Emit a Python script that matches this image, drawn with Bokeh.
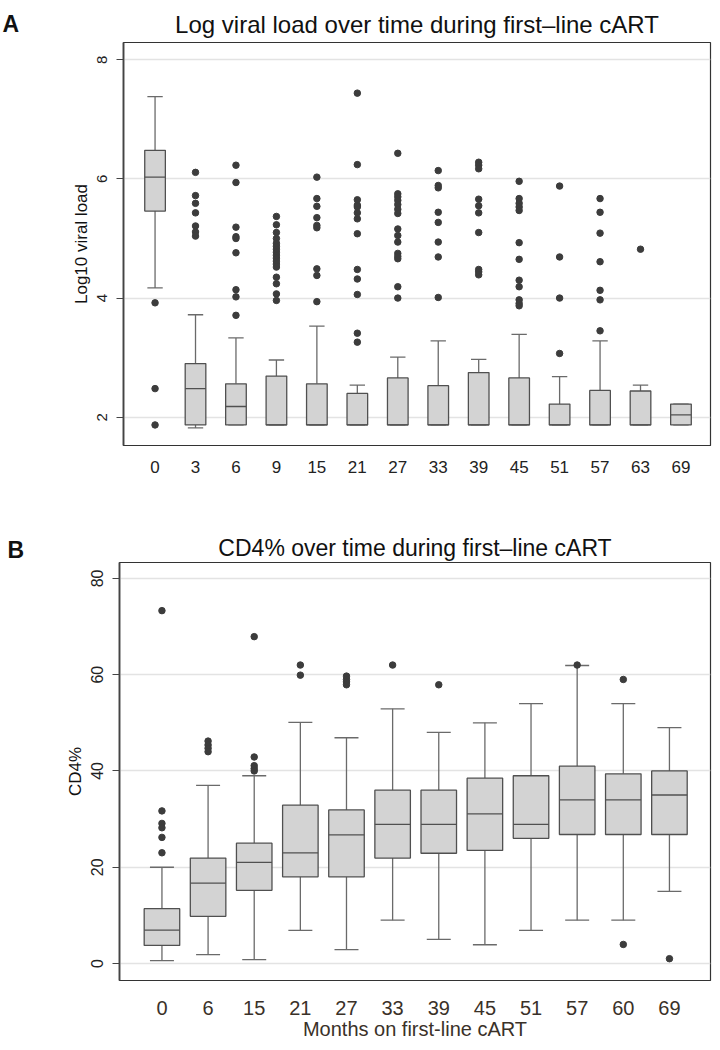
from bokeh.plotting import figure
from bokeh.models import Range1d, FixedTicker, ColumnDataSource
from bokeh.layouts import column, row
from bokeh.transform import dodge
from bokeh.embed import file_html
from bokeh.resources import INLINE

# ---------------- Panel A: log10 viral load ----------------
vl_months = ["0", "3", "6", "9", "15", "21", "27", "33", "39", "45", "51", "57", "63", "69"]
vl_lower = [4.17, 1.82, 1.87, 1.87, 1.87, 1.87, 1.87, 1.87, 1.87, 1.87, 1.87, 1.87, 1.87, 1.87]
vl_q1 = [5.46, 1.87, 1.87, 1.87, 1.87, 1.87, 1.87, 1.87, 1.87, 1.87, 1.87, 1.87, 1.87, 1.87]
vl_median = [6.03, 2.48, 2.18, 1.87, 1.87, 1.87, 1.87, 1.87, 1.87, 1.87, 1.87, 1.87, 1.87, 2.04]
vl_q3 = [6.48, 2.90, 2.56, 2.69, 2.56, 2.40, 2.66, 2.53, 2.75, 2.66, 2.22, 2.45, 2.44, 2.22]
vl_upper = [7.38, 3.72, 3.33, 2.96, 3.53, 2.54, 3.01, 3.28, 2.97, 3.39, 2.68, 3.28, 2.54, 2.22]
vl_outliers = [
    [3.92, 2.48, 1.87],
    [6.11, 5.72, 5.59, 5.43, 5.21, 5.11, 5.04],
    [6.23, 5.94, 5.19, 5.03, 5.00, 4.76, 4.14, 4.02, 3.71],
    [5.37, 5.23, 5.10, 5.00, 4.92, 4.87, 4.82, 4.77, 4.72, 4.67, 4.62, 4.57, 4.52, 4.35, 4.24, 4.07, 3.96],
    [6.03, 5.67, 5.54, 5.35, 5.22, 5.18, 4.49, 4.38, 3.94],
    [7.44, 6.24, 5.65, 5.56, 5.53, 5.43, 5.33, 5.08, 4.48, 4.32, 4.06, 3.41, 3.26],
    [6.43, 5.75, 5.70, 5.64, 5.57, 5.49, 5.42, 5.16, 5.05, 4.94, 4.75, 4.70, 4.66, 4.19, 4.00],
    [6.14, 5.89, 5.85, 5.44, 5.27, 4.94, 4.69, 4.01],
    [6.28, 6.23, 6.17, 5.66, 5.55, 5.43, 5.10, 4.48, 4.44, 4.39],
    [5.96, 5.67, 5.59, 5.53, 5.47, 4.93, 4.65, 4.30, 4.19, 3.97, 3.91, 3.87],
    [5.88, 4.69, 4.00, 3.07],
    [5.67, 5.44, 5.09, 4.61, 4.13, 3.97, 3.45],
    [4.82],
    [],
]
vl_yticks = [2, 4, 6, 8]

# ---------------- Panel B: CD4% ----------------
cd4_months = ["0", "6", "15", "21", "27", "33", "39", "45", "51", "57", "60", "69"]
cd4_lower = [0.6, 1.85, 0.8, 6.9, 2.9, 9.0, 5.0, 3.9, 6.9, 9.0, 9.0, 15.0]
cd4_q1 = [3.75, 9.8, 15.2, 18.0, 18.0, 21.9, 22.9, 23.5, 26.0, 26.8, 26.8, 26.8]
cd4_median = [6.95, 16.7, 21.0, 23.0, 26.7, 28.9, 28.9, 31.1, 28.9, 34.0, 34.0, 35.0]
cd4_q3 = [11.4, 21.9, 25.0, 32.9, 31.9, 36.0, 36.0, 38.5, 39.0, 41.0, 39.4, 40.0]
cd4_upper = [20.0, 37.0, 39.0, 50.1, 46.9, 52.9, 48.0, 50.0, 54.0, 61.9, 54.0, 49.0]
cd4_outliers = [
    [73.3, 31.7, 29.1, 28.2, 26.2, 23.0],
    [46.2, 45.4, 44.7, 44.0],
    [67.9, 42.9, 41.1, 40.5, 40.0],
    [62.0, 59.9],
    [59.7, 59.0, 58.5, 57.9],
    [62.0],
    [57.9],
    [],
    [],
    [62.0],
    [59.0, 3.96],
    [1.0],
]
cd4_yticks = [0, 20, 40, 60, 80]

panel_letters = ["A", "B"]

BOX_FILL = "#d3d3d3"
BOX_LINE = "#505050"
WHISK = "#6a6a6a"
DOT = "#3c3c3c"
GRID = "#e3e3e3"
LETTER_W = 28


def draw_boxes(p, lower, q1, med, q3, upper, outliers, box_w, cap_w, dot_size):
    idx = list(range(len(q1)))
    src = ColumnDataSource(dict(x=idx, lower=lower, q1=q1, med=med, q3=q3, upper=upper))
    p.segment(x0="x", x1="x", y0="q3", y1="upper", source=src, line_color=WHISK, line_width=1.3)
    p.segment(x0="x", x1="x", y0="q1", y1="lower", source=src, line_color=WHISK, line_width=1.3)
    p.segment(x0=dodge("x", -cap_w / 2), x1=dodge("x", cap_w / 2), y0="upper", y1="upper",
              source=src, line_color=WHISK, line_width=1.3)
    p.segment(x0=dodge("x", -cap_w / 2), x1=dodge("x", cap_w / 2), y0="lower", y1="lower",
              source=src, line_color=WHISK, line_width=1.3)
    p.vbar(x="x", width=box_w, bottom="q1", top="q3", source=src,
           fill_color=BOX_FILL, line_color=BOX_LINE, line_width=1.3)
    p.segment(x0=dodge("x", -box_w / 2), x1=dodge("x", box_w / 2), y0="med", y1="med",
              source=src, line_color=BOX_LINE, line_width=1.3)
    ox, oy = [], []
    for i, vals in enumerate(outliers):
        for v in vals:
            ox.append(i)
            oy.append(v)
    p.scatter(x=ox, y=oy, size=dot_size, marker="circle", fill_color=DOT, line_color=DOT)


def style(p, months, yticks, ytick_size, ylab_size, xtick_size, xtick_color):
    p.background_fill_color = "white"
    p.border_fill_color = "white"
    p.outline_line_color = "#333333"
    p.outline_line_width = 1.2
    p.xgrid.visible = False
    p.ygrid.ticker = FixedTicker(ticks=yticks)
    p.ygrid.grid_line_color = GRID
    p.ygrid.grid_line_width = 1.3
    p.yaxis.ticker = FixedTicker(ticks=yticks)
    p.yaxis.major_label_orientation = "vertical"
    p.yaxis.major_label_text_font = "Liberation Sans"
    p.yaxis.major_label_text_font_size = ytick_size
    p.yaxis.major_label_text_color = "#222222"
    p.yaxis.axis_label_text_font = "Liberation Sans"
    p.yaxis.axis_label_text_font_size = ylab_size
    p.yaxis.axis_label_text_font_style = "normal"
    p.yaxis.axis_label_text_color = "#111111"
    p.yaxis.axis_line_color = "#444444"
    p.yaxis.axis_line_width = 1.8
    p.yaxis.major_tick_line_color = "#444444"
    p.yaxis.major_tick_out = 7
    p.yaxis.major_tick_in = 0
    p.yaxis.minor_tick_line_color = None
    p.yaxis.major_label_standoff = 9
    p.yaxis.axis_label_standoff = 4
    p.xaxis.ticker = FixedTicker(ticks=list(range(len(months))))
    p.xaxis.major_label_overrides = {i: m for i, m in enumerate(months)}
    p.xaxis.major_tick_line_color = None
    p.xaxis.minor_tick_line_color = None
    p.xaxis.axis_line_color = "#333333"
    p.xaxis.axis_line_width = 1.2
    p.xaxis.major_label_text_font = "Liberation Sans"
    p.xaxis.major_label_text_font_size = xtick_size
    p.xaxis.major_label_text_color = xtick_color
    p.title.text_font = "Liberation Sans"
    p.title.text_font_style = "normal"
    p.title.text_color = "#111111"
    p.title.align = "center"


def letter_fig(letter, height, border_top, offset, standoff):
    lf = figure(width=LETTER_W, height=height, output_backend="svg", toolbar_location=None,
                x_range=Range1d(0, 1), y_range=Range1d(0, 1), title=letter,
                min_border_left=0, min_border_right=0, min_border_bottom=0,
                min_border_top=border_top, x_axis_location=None, y_axis_location=None)
    lf.outline_line_color = None
    lf.grid.visible = False
    lf.background_fill_color = "white"
    lf.border_fill_color = "white"
    lf.title.text_font = "Liberation Sans"
    lf.title.text_font_style = "bold"
    lf.title.text_font_size = "23px"
    lf.title.text_color = "#111111"
    lf.title.align = "left"
    lf.title.vertical_align = "bottom"
    lf.title.offset = offset
    lf.title.standoff = standoff
    return lf


# ---------- figure A ----------
H1 = 500
p1 = figure(width=712 - LETTER_W, height=H1, output_backend="svg", toolbar_location=None,
            x_range=Range1d(-0.78, 13.73), y_range=Range1d(1.525, 8.29),
            min_border_left=123 - LETTER_W, min_border_right=2, min_border_top=42,
            min_border_bottom=55,
            title="Log viral load over time during first\u2013line cART")
draw_boxes(p1, vl_lower, vl_q1, vl_median, vl_q3, vl_upper, vl_outliers, 0.51, 0.38, 6.5)
style(p1, vl_months, vl_yticks, "15px", "17px", "17px", "#222222")
p1.yaxis.axis_label = "Log10 viral load"
p1.xaxis.major_label_standoff = 9
p1.title.text_font_size = "24px"
p1.title.standoff = 9

# ---------- figure B ----------
H2 = 542
p2 = figure(width=712 - LETTER_W, height=H2, output_backend="svg", toolbar_location=None,
            x_range=Range1d(-0.92, 11.89), y_range=Range1d(-3.53, 83.3),
            min_border_left=119 - LETTER_W, min_border_right=2, min_border_top=62,
            min_border_bottom=60,
            title="CD4% over time during first\u2013line cART")
draw_boxes(p2, cd4_lower, cd4_q1, cd4_median, cd4_q3, cd4_upper, cd4_outliers, 0.77, 0.52, 6.5)
style(p2, cd4_months, cd4_yticks, "16px", "17px", "20px", "#3a3128")
p2.yaxis.axis_label = "CD4%"
p2.xaxis.axis_label = "Months on first-line cART"
p2.xaxis.axis_label_text_font = "Liberation Sans"
p2.xaxis.axis_label_text_font_size = "20px"
p2.xaxis.axis_label_text_font_style = "normal"
p2.xaxis.axis_label_text_color = "#3a3128"
p2.xaxis.major_label_standoff = 14
p2.xaxis.axis_label_standoff = 0
p2.title.text_font_size = "23px"
p2.title.standoff = 4

# the letter strips' frames align with the panels' frames, so the titles sit just above them
la = letter_fig(panel_letters[0], H1, 42, 2, 12)
lb = letter_fig(panel_letters[1], H2, 62, 7, 0)

layout = column(row(la, p1, spacing=0), row(lb, p2, spacing=0), spacing=0)
open("out.html", "w").write(file_html(layout, INLINE))
